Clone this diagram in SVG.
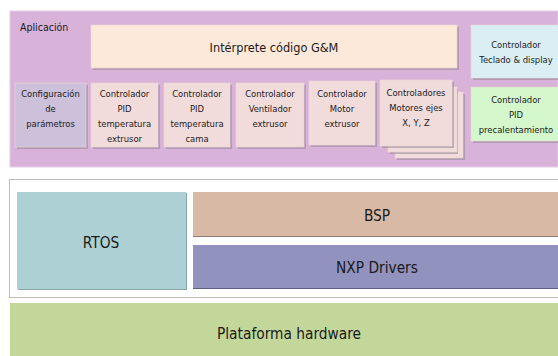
<svg xmlns="http://www.w3.org/2000/svg" width="558" height="356" viewBox="0 0 558 356">
<defs>
<style>
text{font-family:"Liberation Sans Narrow","DejaVu Sans Condensed","Liberation Sans",sans-serif;fill:#1a1a1a;text-anchor:middle}
.s{font-size:9.4px}
.m{font-size:12.6px}
.l{font-size:15.3px}
.sh{fill:#9a8a9a;opacity:0.6}
.box{stroke:#e8d8d8;stroke-width:0.6}
</style>
</defs>
<rect width="558" height="356" fill="#ffffff"/>
<g id="aplicacion">
<rect x="10" y="11" width="548" height="156" fill="#d9b2d9" stroke="#e6cce6" stroke-width="1"/>
<text x="20" y="31" style="text-anchor:start;font-size:10.5px">Aplicación</text>
</g>
<g id="interprete">
<rect x="93" y="27" width="366" height="43" class="sh"/>
<rect x="91" y="25" width="366" height="43" fill="#fde9d9" class="box"/>
<text x="274" y="52" class="m">Intérprete código G&amp;M</text>
</g>
<g id="configuracion">
<rect x="17" y="85" width="71" height="64" class="sh"/>
<rect x="15" y="83" width="71" height="64" fill="#ccc0da" class="box"/>
<text class="s" x="50.5" y="97">Configuración</text>
<text class="s" x="50.5" y="112">de</text>
<text class="s" x="50.5" y="127">parámetros</text>
</g>
<g id="pid-extrusor">
<rect x="93" y="85" width="67" height="64" class="sh"/>
<rect x="91" y="83" width="67" height="64" fill="#f2dcdb" class="box"/>
<text class="s" x="124.5" y="97">Controlador</text>
<text class="s" x="124.5" y="112">PID</text>
<text class="s" x="124.5" y="127">temperatura</text>
<text class="s" x="124.5" y="142">extrusor</text>
</g>
<g id="pid-cama">
<rect x="166" y="85" width="66" height="64" class="sh"/>
<rect x="164" y="83" width="66" height="64" fill="#f2dcdb" class="box"/>
<text class="s" x="197" y="97">Controlador</text>
<text class="s" x="197" y="112">PID</text>
<text class="s" x="197" y="127">temperatura</text>
<text class="s" x="197" y="142">cama</text>
</g>
<g id="ventilador">
<rect x="238" y="85" width="68" height="64" class="sh"/>
<rect x="236" y="83" width="68" height="64" fill="#f2dcdb" class="box"/>
<text class="s" x="270" y="97">Controlador</text>
<text class="s" x="270" y="112">Ventilador</text>
<text class="s" x="270" y="127">extrusor</text>
</g>
<g id="motor-extrusor">
<rect x="311" y="83" width="66" height="64" class="sh"/>
<rect x="309" y="81" width="66" height="64" fill="#f2dcdb" class="box"/>
<text class="s" x="342" y="97">Controlador</text>
<text class="s" x="342" y="112">Motor</text>
<text class="s" x="342" y="127">extrusor</text>
</g>
<g id="motores-ejes">
<rect x="397" y="94" width="68" height="66" class="sh"/>
<rect x="395" y="92" width="68" height="66" fill="#f2dcdb" class="box"/>
<rect x="390" y="89" width="68" height="65" class="sh"/>
<rect x="388" y="87" width="69" height="65" fill="#f2dcdb" class="box"/>
<rect x="382" y="82" width="72" height="66" class="sh"/>
<rect x="380" y="80" width="72" height="66" fill="#f2dcdb" class="box"/>
<text class="s" x="416" y="96">Controladores</text>
<text class="s" x="416" y="111">Motores ejes</text>
<text class="s" x="416" y="126">X, Y, Z</text>
</g>
<g id="teclado">
<rect x="473" y="27" width="87" height="53" class="sh"/>
<rect x="471" y="25" width="89" height="53" fill="#dbeef4" class="box"/>
<text class="s" x="516" y="48">Controlador</text>
<text class="s" x="516" y="63">Teclado &amp; display</text>
</g>
<g id="pid-precalentamiento">
<rect x="473" y="89" width="87" height="54" class="sh"/>
<rect x="471" y="87" width="89" height="54" fill="#d4f7cc" class="box"/>
<text class="s" x="516" y="103">Controlador</text>
<text class="s" x="516" y="118">PID</text>
<text class="s" x="516" y="133">precalentamiento</text>
</g>
<g id="middleware">
<rect x="9.5" y="179.5" width="560" height="118" fill="#ffffff" stroke="#bdbdbd" stroke-width="1"/>
</g>
<g id="rtos">
<rect x="18" y="193" width="169" height="97" fill="#8aa8aa"/>
<rect x="17" y="192" width="169" height="97" fill="#acd0d3"/>
<text class="l" x="101" y="248">RTOS</text>
</g>
<g id="bsp">
<rect x="193" y="193" width="370" height="44" fill="#9a7d70"/>
<rect x="193" y="192" width="370" height="44" fill="#d8b9a5"/>
<text class="l" x="377" y="221">BSP</text>
</g>
<g id="nxp">
<rect x="193" y="246" width="370" height="43" fill="#5f6088"/>
<rect x="193" y="245" width="370" height="43" fill="#9192bd"/>
<text class="l" x="377" y="273">NXP Drivers</text>
</g>
<g id="hardware">
<rect x="10" y="303" width="550" height="53" fill="#c4d79b"/>
<text class="l" x="289" y="339">Plataforma hardware</text>
</g>
<g id="connectors"/>
</svg>
